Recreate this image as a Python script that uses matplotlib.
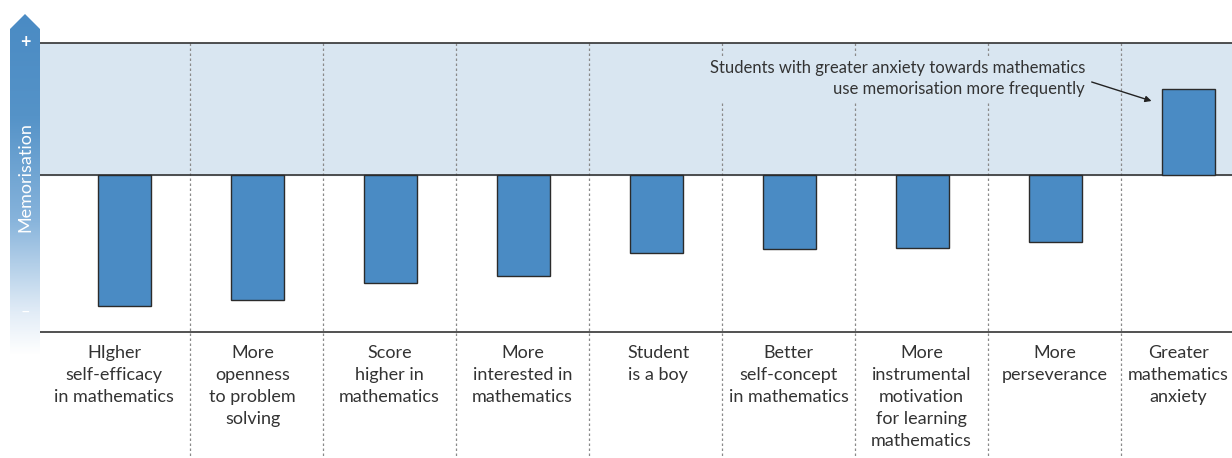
import numpy as np
import matplotlib
matplotlib.use("Agg")
import matplotlib.pyplot as plt
from matplotlib.patches import Polygon
from matplotlib.colors import LinearSegmentedColormap

plt.rcParams["font.family"] = ["Lato", "DejaVu Sans"]

# data: change in memorisation index (arbitrary units)
categories = [
    "HIgher\nself-efficacy\nin mathematics",
    "More\nopenness\nto problem\nsolving",
    "Score\nhigher in\nmathematics",
    "More\ninterested in\nmathematics",
    "Student\nis a boy",
    "Better\nself-concept\nin mathematics",
    "More\ninstrumental\nmotivation\nfor learning\nmathematics",
    "More\nperseverance",
    "Greater\nmathematics\nanxiety",
]
memorisation = [-1.31, -1.25, -1.08, -1.01, -0.78, -0.74, -0.73, -0.67, 0.86]

BAR = "#4a8bc4"
BAND = "#d9e6f1"
LINE = "#333333"
TEXT = "#333333"

W, H = 1232, 458
fig = plt.figure(figsize=(W / 100, H / 100), dpi=100)

# main axes: 1 data unit = 100 px vertically, 1 column = 133 px
ax = fig.add_axes([40 / W, 0, 1 - 40 / W, 1])
ax.set_xlim(-0.628, 8.335)
ax.set_ylim(-2.83, 1.75)
ax.axis("off")

top, bottom = 1.32, -1.57
ax.axhspan(0, top, color=BAND, zorder=0)
for y in (top, 0, bottom):
    ax.axhline(y, color=LINE, lw=1.2, zorder=3)

x = np.arange(len(categories))
for i in range(len(categories) - 1):
    ax.plot([i + 0.5, i + 0.5], [top, -2.83], color="#8a8a8a", lw=0.9,
            ls=(0, (2, 2)), zorder=1)

ax.bar(x + 0.01, memorisation, width=0.4, color=BAR, edgecolor="#2b2b2b",
       linewidth=1, zorder=4)

# small nudges so labels sit as in the original
nudge = [-0.07, -0.03, 0, 0, 0.02, 0, 0, 0, -0.07]
for xi, lab, dx in zip(x, categories, nudge):
    ax.text(xi + dx, -1.70, lab, ha="center", va="top",
            fontsize=13, color=TEXT, linespacing=1.47)

ax.text(7.23, 0.965,
        "Students with greater anxiety towards mathematics\nuse memorisation more frequently",
        ha="right", va="center", fontsize=12, color=TEXT, linespacing=1.42,
        zorder=5, bbox=dict(facecolor=BAND, edgecolor="none", pad=3))
ax.annotate("", xy=(7.73, 0.74), xytext=(7.28, 0.93),
            arrowprops=dict(arrowstyle="-|>", color="#222222", lw=1,
                            mutation_scale=9, shrinkA=0, shrinkB=0), zorder=5)

# left gradient arrow
ax2 = fig.add_axes([10 / W, 1 - 355 / H, 30 / W, (355 - 14) / H])
ax2.set_xlim(0, 1)
ax2.set_ylim(0, 1)
ax2.axis("off")
cmap = LinearSegmentedColormap.from_list(
    "memo", [(0, "#ffffff"), (0.12, "#e3edf7"), (0.4, "#86b3db"),
             (0.7, "#5593c8"), (1, "#4a8bc4")])
grad = np.linspace(0, 1, 256).reshape(-1, 1)
im = ax2.imshow(grad, cmap=cmap, origin="lower", extent=(0, 1, 0, 1),
                aspect="auto")
sh = (355 - 29) / (355 - 14)
shape = Polygon([(0, 0), (1, 0), (1, sh), (0.5, 1), (0, sh)],
                closed=True, transform=ax2.transData, facecolor="none",
                edgecolor="none")
ax2.add_patch(shape)
im.set_clip_path(shape)

fig.text(25 / W, 1 - 43 / H, "+", color="white", fontsize=13,
         fontweight="bold", ha="center", va="center")
fig.text(25 / W, 1 - 312 / H, "\u2013", color="white", fontsize=12,
         ha="center", va="center")
fig.text(25 / W, 1 - 177 / H, "Memorisation", color="white", fontsize=13,
         rotation=90, ha="center", va="center")

fig.savefig("out.png", dpi=100)
